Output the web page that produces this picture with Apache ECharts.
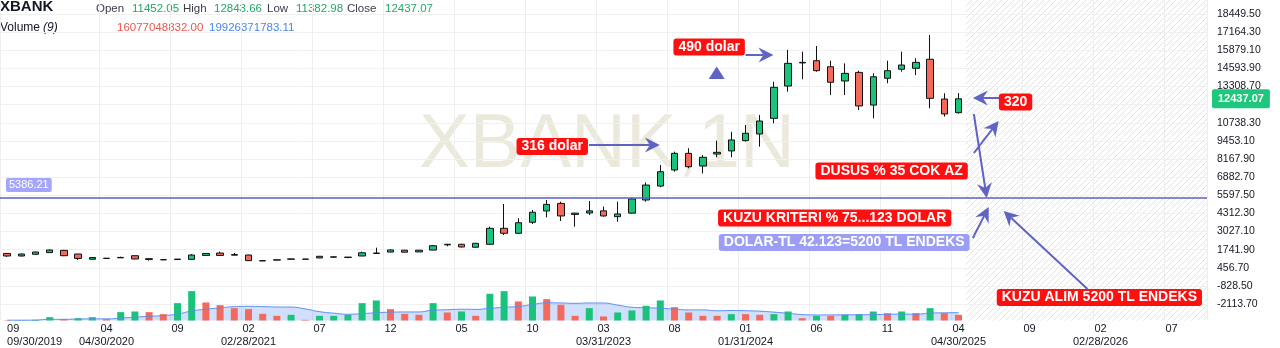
<!DOCTYPE html>
<html><head><meta charset="utf-8">
<script src="https://cdn.jsdelivr.net/npm/echarts@6/dist/echarts.min.js"></script>
<style>html,body{margin:0;padding:0;background:#fff}#c{width:1280px;height:348px}</style>
</head><body><div id="c"></div>
<script>
// ---------- DATA ----------
const START_YEAR = 2019, START_MONTH = 9, N_MONTHS = 85;   // monthly axis incl. future space
const opens  = [1470,1290,1410,1530,1690,1430,1060,1130,1190,1310,1100,1030,1040,1050,1330,1500,1390,1360,960,1020,1060,1070,1150,1210,1190,1290,1470,1570,1700,1580,1710,2080,2120,1910,2120,3253,2900,3680,4480,5020,4240,4340,4490,4080,4330,5260,6250,7390,8570,7670,8520,8740,9470,9940,11050,13340,14980,15140,14710,13700,14310,11990,13890,14530,14600,15240,12420,11452.05];
const highs  = [1510,1460,1600,1760,1720,1440,1200,1140,1240,1330,1110,1060,1080,1430,1480,1600,1500,1380,980,1030,1110,1090,1290,1250,1220,1600,1880,1740,1720,1720,2060,2150,2150,2220,3367,4976,3962,4551,5260,5140,4360,5190,4790,5140,5400,6510,7740,8690,8930,8450,9470,10100,10580,11290,13650,15900,15780,16180,15140,14950,14430,14240,15140,15780,15310,16960,12830,12843.66];
const lows   = [1230,1260,1390,1500,1280,1000,1040,1110,1150,1060,960,990,1020,1040,1320,1320,1340,940,930,990,1050,1050,1140,1190,1130,1280,1460,1550,1540,1570,1700,1980,1900,1890,2080,2779,2849,3558,4030,3770,3370,4200,4080,3720,4300,5140,6160,7270,7510,7150,8290,8290,9400,9040,10700,12940,13820,14360,12700,12700,11640,11050,13540,14360,14120,11760,11170,11382.98];
const closes = [1290,1430,1573,1715,1310,1120,1180,1120,1160,1080,1050,1020,1070,1360,1470,1330,1350,960,940,1000,1080,1060,1270,1230,1210,1520,1500,1720,1560,1700,2020,2120,1930,2190,3253,2900,3650,4390,4950,4130,4330,4490,4130,4270,5340,6320,7270,8570,7620,8290,8640,9520,9990,10860,13250,14950,15020,14430,13610,14240,11930,14000,14430,14830,15020,12470,11360,12437.07];
// volume in billions
const volume = [0.9,0.9,1.9,9.5,3.8,6.6,9.5,3.8,23.7,25.5,23.7,18.0,49.2,83.2,51.1,43.5,35.0,32.2,18.9,13.2,16.1,1.9,13.2,13.2,16.1,49.2,56.8,32.2,18.9,16.1,49.2,22.7,25.5,13.2,75.7,83.2,53.9,68.1,60.5,44.5,13.2,35.0,11.4,22.7,28.4,41.6,56.8,37.8,22.7,13.2,13.2,18.0,18.0,16.1,18.0,25.5,6.6,13.2,13.2,16.1,18.0,25.5,20.8,25.5,20.8,35.0,20.8,16.077048832];
const volumeUp = [0,1,1,1,0,1,1,0,1,1,0,0,1,1,0,0,0,0,0,0,1,0,1,1,1,1,1,0,0,0,1,0,1,0,1,1,0,1,0,0,0,1,0,1,1,1,1,0,0,0,0,1,0,0,1,1,0,1,0,1,1,1,0,1,0,1,0,0];
const VOL_MA_PERIOD = 9;
const lastVolumeText = '16077048832.00';
const lastVolumeMAText = '19926371783.11';
// price axis ticks
const Y_MIN = -2113.7, Y_MAX = 18449.5, Y_STEP = 1285.2;
const hLineValue = 5386.21;
// x tick labels: idx 0, then every 5 months from idx 7
const LABEL_PHASE = 7, LABEL_EVERY = 5;
const dateLabels = {'2019-09':'09/30/2019','2020-04':'04/30/2020','2021-02':'02/28/2021','2023-03':'03/31/2023','2024-01':'01/31/2024','2025-04':'04/30/2025','2026-02':'02/28/2026'};
// annotations, in data space: [month index, price]
const notes = [
  {text:'490 dolar', at:[49.44,16109], bg:'red'},
  {text:'316 dolar', at:[38.39,9054], bg:'red'},
  {text:'320', at:[71.02,12209], bg:'red'},
  {text:'DUSUS % 35 COK AZ', at:[62.29,7317], bg:'red'},
  {text:'KUZU KRITERI % 75...123 DOLAR', at:[58.28,3984], bg:'red'},
  {text:'DOLAR-TL 42.123=5200 TL ENDEKS', at:[58.95,2246], bg:'purple'},
  {text:'KUZU ALIM 5200 TL ENDEKS', at:[76.92,-1654], bg:'red'},
  {text:'5386.21', at:[-0.08,6324], bg:'lav', kind:'small'},
  {text:'', at:[49.97,14266], kind:'tri'}
];
const arrows = [
  [52.0,15542,53.97,15542],
  [40.98,9160,45.97,9160],
  [70.18,12493,68.01,12493],
  [68.08,11358,68.99,5402],
  [68.08,8593,69.83,10862],
  [68.01,2566,69.13,4764],
  [76.08,-1051,70.18,4480]
];

// ---------- STYLE ----------
const GREEN = '#19c37a', RED = '#f4695b', ARROW = '#5f63c4';
const BOX = {red:'#ff1010', purple:'#9c9ef6', lav:'#a3a6fb'};
const FONT = '"Liberation Sans", Arial, sans-serif';

const categories = [];
for (let i = 0; i < N_MONTHS; i++) {
  const k = START_MONTH - 1 + i;
  categories.push((START_YEAR + Math.floor(k / 12)) + '-' + String(k % 12 + 1).padStart(2, '0'));
}
const candleData = opens.map((o, i) => [o, closes[i], lows[i], highs[i]]);
const volData = volume.map((v, i) => ({value: v, itemStyle: {color: volumeUp[i] ? GREEN : RED}}));
const volMA = volume.map((v, i) => {
  const s = Math.max(0, i - VOL_MA_PERIOD + 1);
  const w = volume.slice(s, i + 1);
  return w.reduce((a, b) => a + b, 0) / w.length;
});
const showLabel = i => i === 0 || (i >= LABEL_PHASE && (i - LABEL_PHASE) % LABEL_EVERY === 0);
const fmt2 = v => Number(v).toFixed(2);
const lastClose = closes[closes.length - 1];

const GL = -4, GR = 73;
const chart = echarts.init(document.getElementById('c'), null, {renderer: 'canvas'});

const header = [];
header.push({id:'h0', type:'text', x:0, y:7, style:{text:'XBANK', font:'bold 15px ' + FONT, fill:'#131722', verticalAlign:'middle'}});
const hItems = [['Open',96,0],[fmt2(opens[opens.length-1]),132,1],['High',183,0],[fmt2(highs[highs.length-1]),214,1],['Low',267,0],[fmt2(lows[lows.length-1]),296,1],['Close',347,0],[fmt2(lastClose),385,1]];
hItems.forEach((h, i) => header.push({id:'hi' + i, type:'text', x:h[1], y:9, style:{text:h[0], font:'11.5px ' + FONT, fill:h[2]?'#22a866':'#3a3e4a', verticalAlign:'middle'}}));
header.push({id:'v0', type:'text', x:0, y:28, style:{text:'Volume', font:'12px ' + FONT, fill:'#131722', verticalAlign:'middle'}});
header.push({id:'v1', type:'text', x:43, y:28, style:{text:'(9)', font:'italic 12px ' + FONT, fill:'#131722', verticalAlign:'middle'}});
header.push({id:'v2', type:'text', x:117, y:28, style:{text:lastVolumeText, font:'11.5px ' + FONT, fill:'#e8574d', verticalAlign:'middle'}});
header.push({id:'v3', type:'text', x:209, y:28, style:{text:lastVolumeMAText, font:'11.5px ' + FONT, fill:'#4a86e8', verticalAlign:'middle'}});
header.push({id:'wm', type:'text', x:607, y:146, z:-1, style:{text:'XBANK,1N', font:'76px ' + FONT, fill:'rgba(190,178,140,0.30)', align:'center', verticalAlign:'middle'}});

const option = {
  animation: false,
  backgroundColor: '#fff',
  textStyle: {fontFamily: FONT},
  grid: [
    {left: GL, right: GR, top: 14, bottom: 44},
    {left: GL, right: GR, top: 260.5, bottom: 27.5},
    {left: GL, right: GR, top: 0, bottom: 28}
  ],
  xAxis: [
    {type:'category', gridIndex:0, data:categories, show:false},
    {type:'value', gridIndex:0, min:-0.5, max:N_MONTHS-0.5, show:false},
    {type:'category', gridIndex:1, data:categories, show:false},
    {type:'category', gridIndex:2, data:categories,
      axisLine:{show:false}, axisTick:{show:false},
      splitLine:{show:true, interval:(i)=>showLabel(i), lineStyle:{color:'#eeeeee', width:1}},
      axisLabel:{interval:(i)=>showLabel(i), margin:2, alignMinLabel:'left', color:'#131722',
        formatter:(v)=>{const m=v.slice(5); const d=dateLabels[v]; return d?`{m|${m}}\n{d|${d}}`:`{m|${m}}`;},
        rich:{m:{fontSize:11, lineHeight:13, color:'#131722'}, d:{fontSize:11, lineHeight:14, color:'#131722'}}}}
  ],
  yAxis: [
    {type:'value', gridIndex:0, position:'right', min:Y_MIN, max:Y_MAX, interval:Y_STEP,
      axisLine:{show:false}, axisTick:{show:false},
      splitLine:{lineStyle:{color:'#f0f0f0'}},
      axisLabel:{margin:10, fontSize:10.5, color:'#131722', formatter:(v)=>fmt2(v)}},
    {type:'value', gridIndex:1, min:0, max:170, show:false},
    {type:'value', gridIndex:2, min:0, max:1, show:false}
  ],
  graphic: {elements: header},
  series: [
    {type:'bar', xAxisIndex:2, yAxisIndex:1, data:volData, barWidth:7, z:1},
    {type:'line', xAxisIndex:2, yAxisIndex:1, data:volMA, smooth:0.5, showSymbol:false, z:1,
      lineStyle:{color:'#5b8def', width:1}, areaStyle:{color:'rgba(66,133,244,0.36)'}},
    {type:'candlestick', xAxisIndex:0, yAxisIndex:0, data:candleData, barWidth:7, z:3, clip:false,
      itemStyle:{color:GREEN, color0:RED, borderColor:'#111', borderColor0:'#111', borderColorDoji:'#111', borderWidth:1},
      markLine:{silent:true, symbol:['none','none'], animation:false,
        data:[
          {yAxis:hLineValue, lineStyle:{color:'#5c60bf', width:1.5, type:'solid'}, label:{show:false}},
          {yAxis:lastClose, lineStyle:{color:'rgba(0,0,0,0)', width:0}, label:{show:true, position:'end', distance:5,
            formatter:()=>fmt2(lastClose), backgroundColor:'#1ec77c', color:'#fff', fontWeight:'bold', fontSize:11, padding:[4,6,4,6], borderRadius:2}}
        ]}},
    {type:'custom', xAxisIndex:1, yAxisIndex:0, z:10, clip:false, silent:true,
      encode:{x:[0,2], y:[1,3]},
      data: arrows,
      renderItem:(params, api)=>{
        const p1 = api.coord([api.value(0), api.value(1)]);
        const p2 = api.coord([api.value(2), api.value(3)]);
        const dx = p2[0]-p1[0], dy = p2[1]-p1[1], L = Math.hypot(dx, dy);
        const ux = dx/L, uy = dy/L, nx = -uy, ny = ux;
        const hl = 15, hw = 7.5, notch = 10;
        const bx = p2[0]-ux*hl, by = p2[1]-uy*hl;
        const cx = p2[0]-ux*notch, cy = p2[1]-uy*notch;
        return {type:'group', children:[
          {type:'line', shape:{x1:p1[0], y1:p1[1], x2:cx, y2:cy}, style:{stroke:ARROW, lineWidth:2}},
          {type:'polygon', shape:{points:[[p2[0],p2[1]],[bx+nx*hw,by+ny*hw],[cx,cy],[bx-nx*hw,by-ny*hw]]}, style:{fill:ARROW}}
        ]};
      }},
    {type:'custom', xAxisIndex:1, yAxisIndex:0, z:11, clip:false, silent:true,
      data: notes.map(n=>n.at),
      renderItem:(params, api)=>{
        const n = notes[params.dataIndex];
        const p = api.coord([api.value(0), api.value(1)]);
        if (n.kind === 'tri') {
          return {type:'polygon', shape:{points:[[p[0],p[1]-6.5],[p[0]+8,p[1]+6],[p[0]-8,p[1]+6]]}, style:{fill:ARROW}};
        }
        if (n.kind === 'small') {
          return {type:'text', x:p[0], y:p[1], style:{text:n.text, fill:'#fff', font:'11px ' + FONT, align:'left', verticalAlign:'middle', backgroundColor:BOX[n.bg], padding:[2,3,1,3], borderRadius:2}};
        }
        return {type:'text', x:p[0], y:p[1], style:{text:n.text, fill:'#fff', font:'bold 14px ' + FONT, align:'center', verticalAlign:'middle', backgroundColor:BOX[n.bg], padding:[2,5,1,5], borderRadius:3}};
      }}
  ]
};
chart.setOption(option);

// hatched "future" area, placed through the axes
const pc = document.createElement('canvas'); pc.width = 6; pc.height = 6;
const g = pc.getContext('2d'); g.strokeStyle = '#e3e3e3'; g.lineWidth = 1;
g.beginPath(); g.moveTo(0,6); g.lineTo(6,0); g.moveTo(-1,1); g.lineTo(1,-1); g.moveTo(5,7); g.lineTo(7,5); g.stroke();
const x0 = chart.convertToPixel({xAxisIndex:1}, opens.length - 0.5);
const x1 = chart.convertToPixel({xAxisIndex:1}, N_MONTHS - 0.5);
const yb = chart.convertToPixel({yAxisIndex:1}, 0);
chart.setOption({graphic:{elements: header.concat([{id:'hatch', type:'rect', z:-2, shape:{x:x0, y:0, width:x1-x0, height:yb}, style:{fill:{image:pc, repeat:'repeat'}}}])}});
</script></body></html>
